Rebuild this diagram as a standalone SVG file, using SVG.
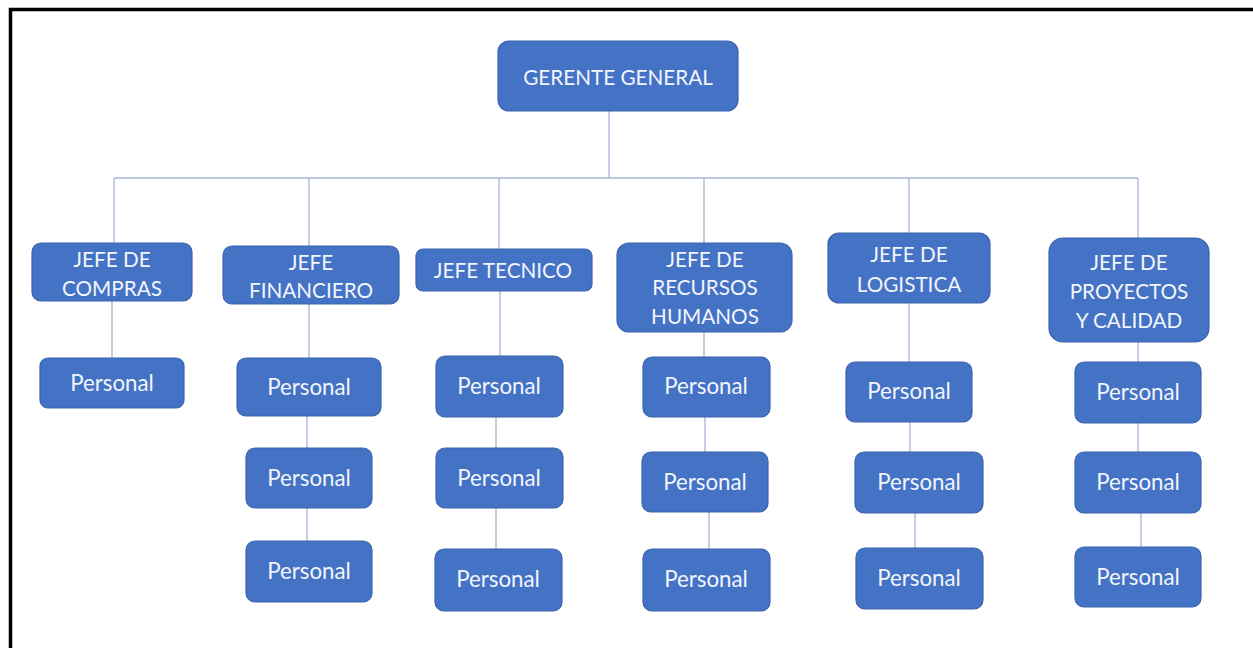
<svg xmlns="http://www.w3.org/2000/svg" width="1253" height="648" viewBox="0 0 1253 648">
<style>
.frame{fill:none;stroke:#000;stroke-width:3.5}
.box{fill:#4472c4;stroke:#3b64ad;stroke-width:1.2}
.t{font-family:Lato,"Open Sans",sans-serif;font-size:20.7px;fill:#f2f5fc;text-anchor:middle}
.p{font-size:22.3px}
.c{stroke:#aab4d6;stroke-width:1.3;fill:none}
</style>
<rect width="1253" height="648" fill="#fff"/>
<path class="frame" d="M10.5 660 V9.5 H1270"/>
<g id="connectors">
<path class="c" d="M609 111 V178 M114 178 H1138 M114 178 V243 M309 178 V246 M499 178 V249 M704 178 V243 M909 178 V233 M1138 178 V238"/>
<path class="c" d="M112 301 V358"/>
<path class="c" d="M309 304 V358 M307 416 V448 M307 508 V541"/>
<path class="c" d="M500 291 V356 M496 417 V448 M496 508 V549"/>
<path class="c" d="M704 332 V357 M705 417 V452 M709 512 V549"/>
<path class="c" d="M909 303 V362 M910 422 V452 M915 513 V548"/>
<path class="c" d="M1138 342 V362 M1138 423 V452 M1141 513 V547"/>
</g>
<g id="gerente"><rect class="box" x="498" y="41" width="240" height="70" rx="11"/><text class="t" x="618" y="85">GERENTE GENERAL</text></g>
<g id="jefe-compras"><rect class="box" x="32" y="243" width="160" height="58" rx="9"/><text class="t" x="112" y="267">JEFE DE</text><text class="t" x="112" y="296">COMPRAS</text></g>
<g id="jefe-financiero"><rect class="box" x="223" y="246" width="176" height="58" rx="9"/><text class="t" x="311" y="270">JEFE</text><text class="t" x="311" y="298">FINANCIERO</text></g>
<g id="jefe-tecnico"><rect class="box" x="416" y="249" width="176" height="42" rx="7"/><text class="t" x="503" y="278">JEFE TECNICO</text></g>
<g id="jefe-rrhh"><rect class="box" x="617" y="243" width="175" height="89" rx="12"/><text class="t" x="705" y="267">JEFE DE</text><text class="t" x="705" y="295">RECURSOS</text><text class="t" x="705" y="324">HUMANOS</text></g>
<g id="jefe-logistica"><rect class="box" x="828" y="233" width="162" height="70" rx="11"/><text class="t" x="909" y="262">JEFE DE</text><text class="t" x="909" y="292">LOGISTICA</text></g>
<g id="jefe-proyectos"><rect class="box" x="1049" y="238" width="160" height="104" rx="14"/><text class="t" x="1129" y="270">JEFE DE</text><text class="t" x="1129" y="299">PROYECTOS</text><text class="t" x="1129" y="328">Y CALIDAD</text></g>
<g id="personal-compras-1"><rect class="box" x="40" y="358" width="144" height="50" rx="8"/><text class="t p" x="112" y="391">Personal</text></g>
<g id="personal-fin-1"><rect class="box" x="237" y="358" width="144" height="58" rx="9"/><text class="t p" x="309" y="395">Personal</text></g>
<g id="personal-fin-2"><rect class="box" x="246" y="448" width="126" height="60" rx="9"/><text class="t p" x="309" y="486">Personal</text></g>
<g id="personal-fin-3"><rect class="box" x="246" y="541" width="126" height="61" rx="9"/><text class="t p" x="309" y="579">Personal</text></g>
<g id="personal-tec-1"><rect class="box" x="436" y="356" width="127" height="61" rx="9"/><text class="t p" x="499" y="394">Personal</text></g>
<g id="personal-tec-2"><rect class="box" x="436" y="448" width="127" height="60" rx="9"/><text class="t p" x="499" y="486">Personal</text></g>
<g id="personal-tec-3"><rect class="box" x="435" y="549" width="127" height="62" rx="9"/><text class="t p" x="498" y="587">Personal</text></g>
<g id="personal-rrhh-1"><rect class="box" x="643" y="357" width="127" height="60" rx="9"/><text class="t p" x="706" y="394">Personal</text></g>
<g id="personal-rrhh-2"><rect class="box" x="642" y="452" width="126" height="60" rx="9"/><text class="t p" x="705" y="490">Personal</text></g>
<g id="personal-rrhh-3"><rect class="box" x="643" y="549" width="127" height="62" rx="9"/><text class="t p" x="706" y="587">Personal</text></g>
<g id="personal-log-1"><rect class="box" x="846" y="362" width="126" height="60" rx="9"/><text class="t p" x="909" y="399">Personal</text></g>
<g id="personal-log-2"><rect class="box" x="855" y="452" width="128" height="61" rx="9"/><text class="t p" x="919" y="490">Personal</text></g>
<g id="personal-log-3"><rect class="box" x="856" y="548" width="127" height="61" rx="9"/><text class="t p" x="919" y="586">Personal</text></g>
<g id="personal-proy-1"><rect class="box" x="1075" y="362" width="126" height="61" rx="9"/><text class="t p" x="1138" y="400">Personal</text></g>
<g id="personal-proy-2"><rect class="box" x="1075" y="452" width="126" height="61" rx="9"/><text class="t p" x="1138" y="490">Personal</text></g>
<g id="personal-proy-3"><rect class="box" x="1075" y="547" width="126" height="60" rx="9"/><text class="t p" x="1138" y="585">Personal</text></g>
</svg>
